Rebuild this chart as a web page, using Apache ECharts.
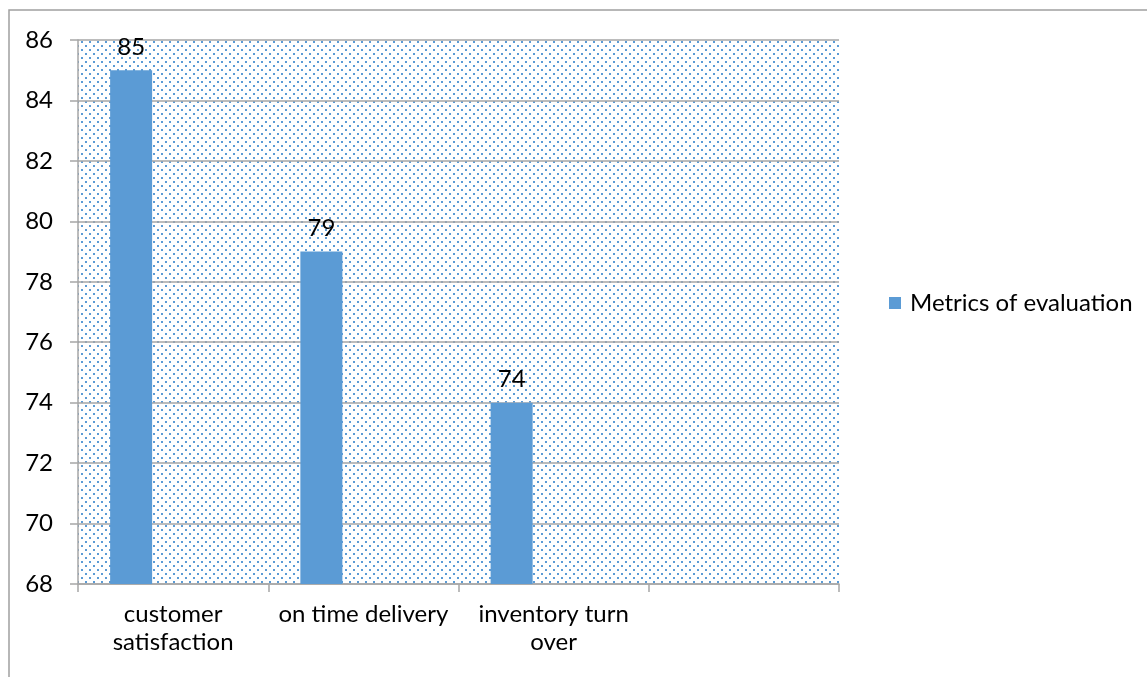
<!DOCTYPE html>
<html>
<head>
<meta charset="utf-8">
<script src="https://cdn.jsdelivr.net/npm/echarts@6/dist/echarts.min.js"></script>
<style>
html,body{margin:0;padding:0;background:#fff;}
#chart{width:1147px;height:677px;}
</style>
</head>
<body>
<div id="chart"></div>
<script>
const categories = ['customer\nsatisfaction', 'on time delivery', 'inventory turn\nover', ''];
const seriesName = 'Metrics of evaluation';
const values = [85, 79, 74, '-'];
const yMin = 68, yMax = 86, yStep = 2;

const FONT = 'Lato';
const GRID_GRAY = '#a6a6a6';

// dotted pattern tile
const tile = document.createElement('canvas');
tile.width = 8; tile.height = 8;
const tc = tile.getContext('2d');
tc.fillStyle = '#ffffff';
tc.fillRect(0, 0, 8, 8);
tc.fillStyle = '#5b9bd5';
tc.fillRect(1, 1, 2, 2);
tc.fillRect(5, 5, 2, 2);

const chart = echarts.init(document.getElementById('chart'), null, {renderer: 'canvas'});
chart.setOption({
  animation: false,
  backgroundColor: '#ffffff',
  textStyle: {fontFamily: FONT},
  graphic: [
    {type: 'polyline', silent: true, shape: {points: [[9, 677], [9, 10], [1147, 10]]},
     style: {stroke: '#a0a0a0', lineWidth: 1.5, fill: null}}
  ],
  grid: {
    left: 78, top: 40, right: 308, bottom: 93,
    show: true, borderWidth: 0,
    backgroundColor: {image: tile, repeat: 'repeat'}
  },
  legend: {
    data: [seriesName],
    left: 884, top: 286,
    orient: 'vertical',
    itemWidth: 12, itemHeight: 12, itemGap: 10,
    icon: 'rect',
    textStyle: {fontFamily: FONT, fontSize: 24, color: '#000', padding: [0, 0, 0, 4]}
  },
  xAxis: {
    type: 'category',
    data: categories,
    axisLine: {show: true, lineStyle: {color: GRID_GRAY, width: 1.5}},
    axisTick: {show: true, length: 8, lineStyle: {color: GRID_GRAY, width: 1.5}},
    axisLabel: {interval: 0, margin: 16, fontFamily: FONT, fontSize: 24, lineHeight: 28, color: '#000', align: 'center'},
    splitLine: {show: false}
  },
  yAxis: {
    type: 'value',
    min: yMin, max: yMax, interval: yStep,
    axisLine: {show: true, lineStyle: {color: GRID_GRAY, width: 1.5}},
    axisTick: {show: true, length: 8, lineStyle: {color: GRID_GRAY, width: 1.5}},
    axisLabel: {margin: 25, fontFamily: FONT, fontSize: 24, color: '#000'},
    splitLine: {show: true, lineStyle: {color: GRID_GRAY, width: 1.5}}
  },
  series: [
    {
      name: seriesName, type: 'bar', data: values,
      barWidth: 42, barGap: '0%',
      itemStyle: {color: '#5b9bd5'},
      label: {show: true, position: 'top', distance: 11, fontFamily: FONT, fontSize: 24, color: '#000'}
    },
    {name: 's2', type: 'bar', data: ['-', '-', '-', '-'], barWidth: 42, barGap: '0%'},
    {name: 's3', type: 'bar', data: ['-', '-', '-', '-'], barWidth: 42, barGap: '0%'}
  ]
});
</script>
</body>
</html>
